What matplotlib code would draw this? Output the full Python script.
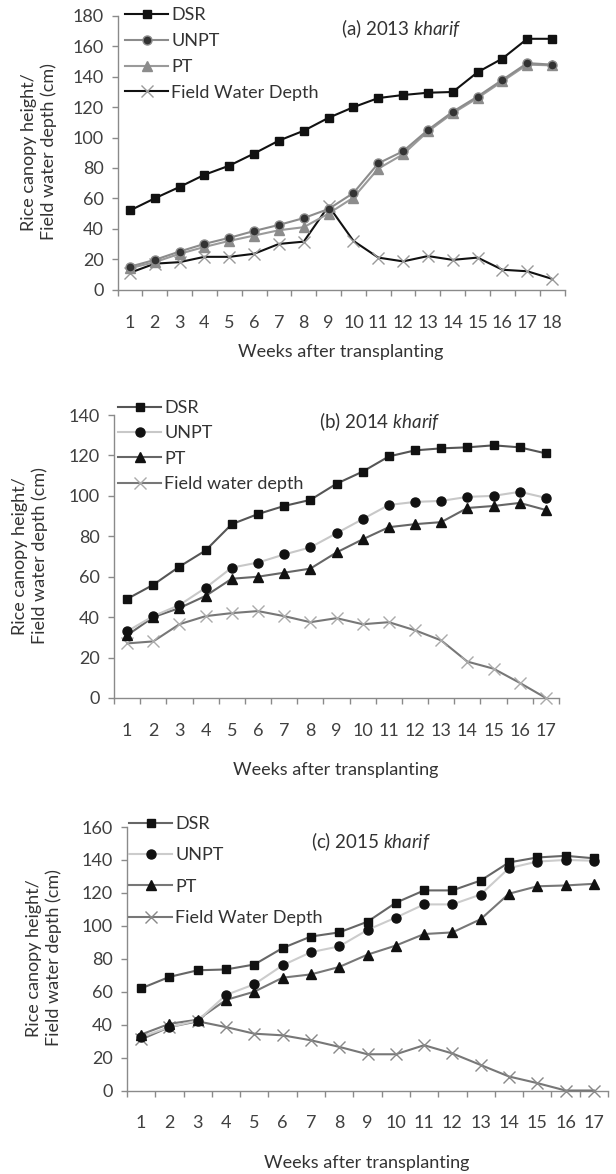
import numpy as np
import matplotlib
matplotlib.use("Agg")
import matplotlib.pyplot as plt

# ---------------- data ----------------
weeks_a = list(range(1, 19))
weeks_b = list(range(1, 18))
weeks_c = list(range(1, 18))

dsr_a = [52, 60, 67.5, 75.5, 81.5, 89.5, 98, 104.5, 113, 120, 126, 128, 129.5, 130, 143, 152, 165, 165]
unpt_a = [15, 19.5, 25, 30, 34, 38.5, 42.5, 47, 53, 63.5, 83, 91, 105, 117, 127, 138, 149, 148]
pt_a = [14, 18, 23.5, 28, 32, 35.5, 39, 41, 50, 60.5, 79.5, 89, 104, 116, 126, 137, 148, 147.5]
water_a = [11, 17, 18, 21.5, 21.5, 23.5, 30, 31.5, 55, 32, 21, 18.5, 22, 19.5, 21, 13, 12, 7]

dsr_b = [49, 56, 65, 73, 86, 91, 95, 98, 106, 112, 119.5, 122.5, 123.5, 124, 125, 124, 121]
unpt_b = [33, 40.5, 46, 54.5, 64.5, 67, 71, 74.5, 81.5, 88.5, 95.5, 97, 97.5, 99.5, 100, 102, 99]
pt_b = [31, 40, 44.5, 50.5, 59, 60, 62, 64, 72, 78.5, 84.5, 86, 87, 94, 95, 96.5, 93]
water_b = [27, 28, 36.5, 40.5, 42, 43, 40.5, 37.5, 39.5, 36.5, 37.5, 33.5, 28.5, 18, 14.5, 7.5, 0]

dsr_c = [62, 69, 73, 73.5, 76.5, 86.5, 93.5, 96, 102.5, 114, 121.5, 121.5, 127.5, 138.5, 141.5, 142.5, 141]
unpt_c = [32.5, 38.5, 42.5, 58, 64.5, 76, 84, 87.5, 97.5, 105, 113, 113, 119, 135, 139, 140, 139.5]
pt_c = [34, 40.5, 43, 55, 60, 68.5, 70.5, 75, 82.5, 88, 95, 96, 104, 119.5, 124, 124.5, 125.5]
water_c = [31, 38.5, 42, 38.5, 34.5, 33.5, 30.5, 26.5, 22, 22, 27.5, 22.5, 15.5, 8.5, 4.5, 0, 0]

series_names_a = ["DSR", "UNPT", "PT", "Field Water Depth"]
series_names_b = ["DSR", "UNPT", "PT", "Field water depth"]
series_names_c = ["DSR", "UNPT", "PT", "Field Water Depth"]

titles = ["(a) 2013 $kharif$", "(b) 2014 $kharif$", "(c) 2015 $kharif$"]
ylabel_text = "Rice canopy height/\nField water depth (cm)"
xlabel_text = "Weeks after transplanting"

# ---------------- style ----------------
W, H = 616, 1174
plt.rcParams['font.family'] = ['Lato', 'DejaVu Sans']
plt.rcParams['mathtext.fontset'] = 'custom'
plt.rcParams['mathtext.rm'] = 'Lato'
plt.rcParams['mathtext.it'] = 'Lato:italic'

TXT = '#333333'
TICK = '#404040'
AX = '#8a8a8a'
FS = 13

fig = plt.figure(figsize=(W / 100, H / 100), dpi=100)


def fx(px):
    return px / W


def fy(py):
    return 1 - py / H


panels = [
    dict(weeks=weeks_a, data=[dsr_a, unpt_a, pt_a, water_a], names=series_names_a,
         box=(117.5, 564.5, 16, 289.5), ymax=180, xmax=18.5,
         line=['#111111', '#8c8c8c', '#9a9a9a', '#111111'],
         mface=['#111111', '#333333', '#8c8c8c', '#999999'],
         medge=['#111111', '#8c8c8c', '#8c8c8c', '#999999'],
         ylab=(39, 152), title=(401, 29), xlab=(341, 352),
         leg=(125, 7), lspace=0.55),
    dict(weeks=weeks_b, data=[dsr_b, unpt_b, pt_b, water_b], names=series_names_b,
         box=(114, 559, 415, 698), ymax=140, xmax=17.5,
         line=['#555555', '#c8c8c8', '#666666', '#777777'],
         mface=['#111111', '#111111', '#111111', '#aaaaaa'],
         medge=['#111111', '#111111', '#111111', '#aaaaaa'],
         ylab=(30, 556), title=(380, 422), xlab=(336, 770),
         leg=(118, 400), lspace=0.52),
    dict(weeks=weeks_c, data=[dsr_c, unpt_c, pt_c, water_c], names=series_names_c,
         box=(127, 608, 827, 1090.5), ymax=160, xmax=17.25,
         line=['#666666', '#cccccc', '#777777', '#777777'],
         mface=['#111111', '#111111', '#111111', '#888888'],
         medge=['#111111', '#111111', '#111111', '#888888'],
         ylab=(44, 958), title=(371, 842), xlab=(367, 1163),
         leg=(129, 816), lspace=0.85),
]

markers = ['s', 'o', '^', 'x']
msizes = [6, 6.5, 6.5, 8]

for i, p in enumerate(panels):
    l, r, t, b = p['box']
    ax = fig.add_axes([fx(l), fy(b), fx(r) - fx(l), fy(t) - fy(b)])
    for k in range(4):
        ax.plot(p['weeks'], p['data'][k], color=p['line'][k], lw=1.5,
                marker=markers[k], ms=msizes[k], mfc=p['mface'][k], mec=p['medge'][k],
                mew=1.0, label=p['names'][k], clip_on=False, zorder=3 + (3 - k))
    n = len(p['weeks'])
    ax.set_xlim(0.5, p['xmax'])
    ax.set_ylim(0, p['ymax'])
    ax.set_yticks(np.arange(0, p['ymax'] + 1, 20))
    ax.set_xticks(np.arange(0.5, n + 1, 1.0))
    ax.set_xticklabels([])
    ax.set_xticks(p['weeks'], minor=True)
    ax.set_xticklabels([str(w) for w in p['weeks']], minor=True)
    ax.tick_params(axis='x', which='major', length=4.5, width=1, color=AX, direction='out')
    ax.tick_params(axis='x', which='minor', length=0, pad=18, labelsize=FS, labelcolor=TICK)
    ax.tick_params(axis='y', length=4, width=1, color=AX, pad=6, labelsize=FS, labelcolor=TICK)
    for s in ['top', 'right']:
        ax.spines[s].set_visible(False)
    for s in ['left', 'bottom']:
        ax.spines[s].set_color(AX)
        ax.spines[s].set_linewidth(1)
    ax.patch.set_alpha(0)

    leg = ax.legend(loc='upper left', bbox_to_anchor=(fx(p['leg'][0]), fy(p['leg'][1])),
                    bbox_transform=fig.transFigure, frameon=False, borderpad=0,
                    borderaxespad=0, handlelength=2.4, handletextpad=0.15,
                    labelspacing=p['lspace'], fontsize=FS, numpoints=1)
    for txt in leg.get_texts():
        txt.set_color(TXT)

    fig.text(fx(p['title'][0]), fy(p['title'][1]), titles[i], ha='center', va='center',
             fontsize=13.5, color=TXT)
    fig.text(fx(p['ylab'][0]), fy(p['ylab'][1]), ylabel_text, rotation=90, ha='center',
             va='center', multialignment='center', linespacing=1.3, fontsize=FS, color=TXT)
    fig.text(fx(p['xlab'][0]), fy(p['xlab'][1]), xlabel_text, ha='center', va='center',
             fontsize=FS, color=TXT)

fig.savefig('out.png', dpi=100, facecolor='white')
